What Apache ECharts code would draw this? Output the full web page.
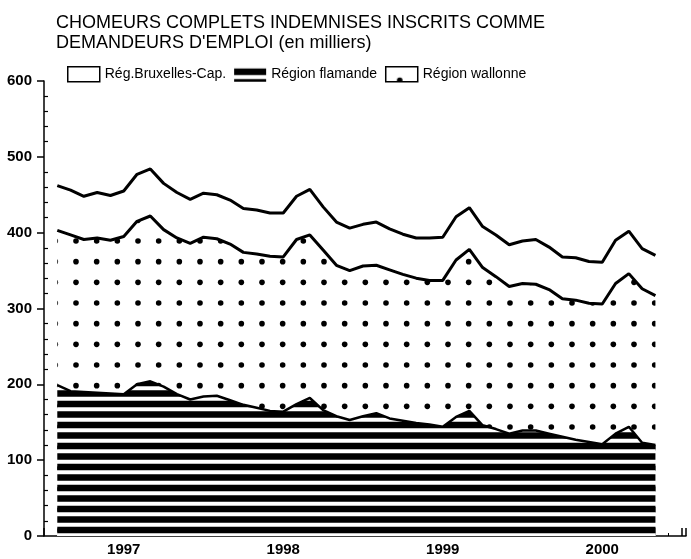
<!DOCTYPE html>
<html><head><meta charset="utf-8">
<script src="https://cdn.jsdelivr.net/npm/echarts@6/dist/echarts.min.js"></script>
<style>html,body{margin:0;padding:0;background:#fff}#c{width:691px;height:559px}</style>
</head><body><div id="c"></div>
<script>
// Monthly observations, Jan 1997 - Oct 2000 (thousands)
const months = [
 '1997-01','1997-02','1997-03','1997-04','1997-05','1997-06','1997-07','1997-08','1997-09','1997-10','1997-11','1997-12',
 '1998-01','1998-02','1998-03','1998-04','1998-05','1998-06','1998-07','1998-08','1998-09','1998-10','1998-11','1998-12',
 '1999-01','1999-02','1999-03','1999-04','1999-05','1999-06','1999-07','1999-08','1999-09','1999-10','1999-11','1999-12',
 '2000-01','2000-02','2000-03','2000-04','2000-05','2000-06','2000-07','2000-08','2000-09','2000-10'];
const yearLabels = ['1997','1998','1999','2000'];
const flamande = [199,191,190,189,188,187,200,204,197,187,180,184,185,179,173,169,165,164,174,182,166,158,153,158,
                  162,155,152,149,147,144,157,165,146,141,135,139,139,135,131,127,124,121,135,144,123,120];
const wallonne = [204,206,201,204,202,208,215,218,207,206,206,210,207,206,201,203,204,204,217,215,211,199,197,198,
                  195,196,193,191,190,193,207,213,208,201,194,194,193,190,182,184,183,185,198,202,203,197];
const bruxelles = [59,59,57,60,59,60,62,62,61,60,58,58,58,58,58,58,57,58,57,60,57,57,56,55,
                   57,54,53,53,56,57,57,55,54,55,55,56,59,56,55,56,55,55,57,56,53,53];
const seriesNames = ['Rég.Bruxelles-Cap.','Région flamande','Région wallonne'];
const yMax = 600, yStep = 100;

// patterns
function stripePattern(){
  const c = document.createElement('canvas'); c.width = 8; c.height = 21;
  const g = c.getContext('2d'); g.fillStyle = '#fff'; g.fillRect(0,0,8,21);
  g.fillStyle = '#000';
  g.fillRect(0,1.75,8,6.5); g.fillRect(0,12.25,8,6.5);
  return {image:c, repeat:'repeat'};
}
function dotPattern(){
  const c = document.createElement('canvas'); c.width = 62; c.height = 62;
  const g = c.getContext('2d');
  g.fillStyle = '#fff'; g.fillRect(0,0,62,62);
  g.fillStyle = '#000';
  const p = [14, 34.67, 55.33];
  const q = [13.67, 34.33, 55];
  for (const x of p) for (const y of q){ g.beginPath(); g.arc(x,y,2.8,0,Math.PI*2); g.fill(); }
  return {image:c, repeat:'repeat'};
}
const stripes = stripePattern();
const dots = dotPattern();

// cumulative levels (stack drawn manually: each area fills down to 0, upper layers first)
const levelF = flamande.slice();
const levelFW = flamande.map((v,i)=>v + wallonne[i]);
const levelAll = levelFW.map((v,i)=>v + bruxelles[i]);
const xy = arr => arr.map((v,i)=>[i+1, v]);   // month i -> position i+1 on month scale
const xMax = 48.3;
const font = 'Liberation Sans, Arial, sans-serif';

const chart = echarts.init(document.getElementById('c'), null, {renderer:'canvas'});
chart.setOption({
  animation:false,
  backgroundColor:'#fff',
  title:{
    text:'CHOMEURS COMPLETS INDEMNISES INSCRITS COMME\nDEMANDEURS D\'EMPLOI (en milliers)',
    left:51, top:8,
    textStyle:{fontFamily:font, fontSize:18, fontWeight:'normal', color:'#000', lineHeight:20}
  },
  legend:{
    left:62, top:61, itemWidth:32, itemHeight:15, itemGap:8,
    textStyle:{fontFamily:font, fontSize:14, color:'#000'},
    data:[
      {name:seriesNames[0], icon:'rect', itemStyle:{color:'#fff', borderColor:'#000', borderWidth:1.5}},
      {name:seriesNames[1], icon:'rect', itemStyle:{color:stripes, borderWidth:0}},
      {name:seriesNames[2], icon:'rect', itemStyle:{color:dots, borderColor:'#000', borderWidth:1.5}}
    ],
    selectedMode:false
  },
  grid:{left:44, top:81, right:5, bottom:23, containLabel:false},
  xAxis:[
    {type:'value', min:0, max:xMax, interval:12, position:'bottom',
     axisLine:{show:true, lineStyle:{color:'#000', width:1.5}},
     axisTick:{show:true, inside:true, length:8, lineStyle:{color:'#000', width:1.5}},
     minorTick:{show:true, splitNumber:12, length:3, lineStyle:{color:'#000', width:1}},
     axisLabel:{show:false}, splitLine:{show:false}},
    {type:'value', min:0, max:xMax, interval:6, position:'bottom',
     axisLine:{show:false}, axisTick:{show:false}, splitLine:{show:false},
     axisLabel:{show:true, margin:6, fontFamily:font, fontSize:15, fontWeight:'bold', color:'#000',
       formatter:v => (v % 12 === 6) ? yearLabels[(v-6)/12] : ''}}
  ],
  yAxis:[
    {type:'value', min:0, max:yMax, interval:yStep, position:'left',
     axisLine:{show:true, lineStyle:{color:'#000', width:1.5}},
     axisTick:{show:true, inside:false, length:7, lineStyle:{color:'#000', width:1.5}},
     axisLabel:{margin:12, fontFamily:font, fontSize:15, fontWeight:'bold', color:'#000'},
     splitLine:{show:false}},
    {type:'value', min:0, max:yMax, interval:yStep, position:'left',
     axisLine:{show:false}, axisTick:{show:false, inside:true},
     minorTick:{show:true, splitNumber:5, length:4, lineStyle:{color:'#000', width:1.2}},
     axisLabel:{show:false}, splitLine:{show:false}}
  ],
  series:[
    {name:seriesNames[0], type:'line', data:xy(levelAll), symbol:'none', z:2,
     lineStyle:{color:'#000', width:3}, itemStyle:{color:'#000'}, areaStyle:{color:'#fff', opacity:1}},
    {name:seriesNames[2], type:'line', data:xy(levelFW), symbol:'none', z:3,
     lineStyle:{color:'#000', width:3}, itemStyle:{color:'#000'}, areaStyle:{color:dots, opacity:1}},
    {name:seriesNames[1], type:'line', data:xy(levelF), symbol:'none', z:4,
     lineStyle:{color:'#000', width:2.5}, itemStyle:{color:'#000'}, areaStyle:{color:stripes, opacity:1}}
  ]
});
</script></body></html>
